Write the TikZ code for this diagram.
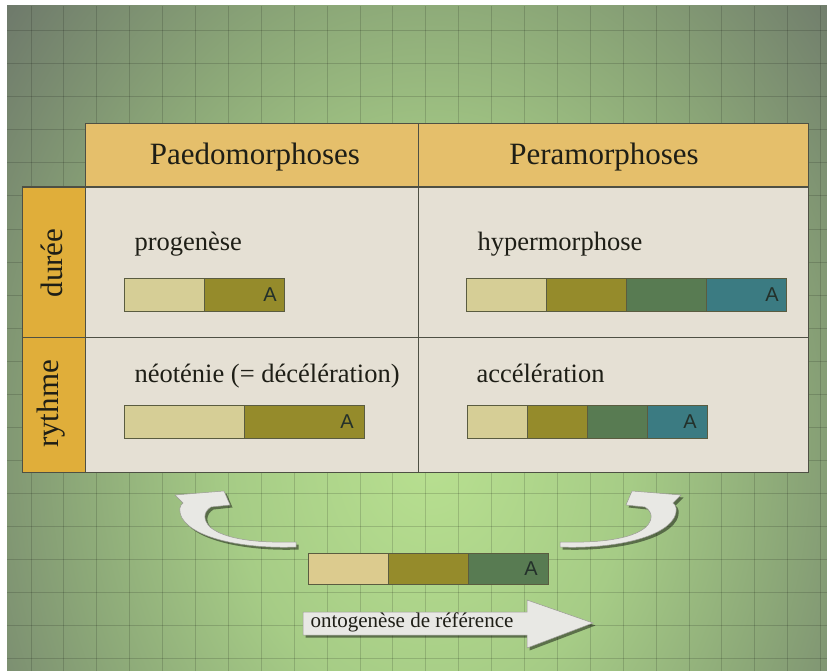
\documentclass[tikz,border=0pt]{standalone}
\usepackage{fontspec}
\setmainfont{Liberation Serif}
\setsansfont{Liberation Sans}
\usepackage{tikz}
\usetikzlibrary{positioning,shadows}

\definecolor{bgout}{HTML}{6C766A}
\definecolor{bgmid}{HTML}{8CA878}
\definecolor{bglight}{HTML}{A6CC86}
\definecolor{bgin}{HTML}{B8E090}
\definecolor{headcol}{HTML}{E5BF6B}
\definecolor{sidecol}{HTML}{E0AE3A}
\definecolor{cellcol}{HTML}{E5E0D4}
\definecolor{linecol}{HTML}{4E5044}
\definecolor{inkcol}{HTML}{1E1E16}
\definecolor{segline}{HTML}{5A5C40}
\definecolor{segA}{HTML}{D6CE96}
\definecolor{refA}{HTML}{DCCB8E}
\definecolor{segB}{HTML}{958B2B}
\definecolor{segC}{HTML}{587B52}
\definecolor{segD}{HTML}{3B7B82}
\definecolor{alcol}{HTML}{23302A}
\definecolor{arrowfill}{HTML}{E8E8E4}
\definecolor{arrowline}{HTML}{9A9A94}

\pgfdeclareradialshading{bgglow}{\pgfpoint{0bp}{0bp}}{color(0bp)=(bgin); color(9bp)=(bglight); color(16bp)=(bgmid); color(25bp)=(bgout); color(50bp)=(bgout)}

\begin{document}
\begin{tikzpicture}[x=1pt,y=-1pt,
	gridline/.style={black,opacity=0.15,line width=1pt},
	tableline/.style={linecol,line width=1pt},
	headtext/.style={anchor=base,text=inkcol,font=\fontsize{31}{36}\selectfont},
	sidetext/.style={rotate=90,text=inkcol,font=\fontsize{31}{36}\selectfont},
	celltext/.style={anchor=base west,text=inkcol,font=\fontsize{26.5}{30}\selectfont},
	segbox/.style={rectangle,draw=segline,line width=0.7pt,inner sep=0pt,outer sep=0pt,minimum height=33pt,anchor=north west},
	alabel/.style={inner sep=0pt,text=alcol,font=\sffamily\fontsize{20}{24}\selectfont},
	bentarrow/.style={fill=arrowfill,draw=arrowline,line width=0.5pt,drop shadow={shadow xshift=2.5pt,shadow yshift=-2.5pt,opacity=0.45,fill=black}}]
	
	% background
	\useasboundingbox (0,0) rectangle (827,671);
	\fill[white] (0,0) rectangle (827,671);
	\begin{scope}
		\clip (7,6) rectangle (827,671);
		\fill[bgout] (7,6) rectangle (827,671);
		\shade[shading=bgglow] (430,450) ellipse [x radius=560pt,y radius=720pt];
		\foreach \k in {0,...,24}
			\draw[gridline] ({31+32.9*\k},6) -- ({31+32.9*\k},671);
		\foreach \k in {0,...,19}
			\draw[gridline] (7,{31+33*\k}) -- (827,{31+33*\k});
	\end{scope}
	
	% table
	\fill[headcol] (85,124) rectangle (808,187);
	\fill[sidecol] (22,187) rectangle (85,472);
	\fill[cellcol] (85,187) rectangle (808,472);
	\draw[tableline] (85,124) rectangle (808,472);
	\draw[tableline] (22,187) rectangle (85,472);
	\draw[tableline] (22,337) -- (808,337);
	\draw[tableline] (418,124) -- (418,472);
	\draw[linecol,line width=1.5pt] (22,187) -- (808,187);
	
	\node[headtext] (paedo) at (255,165) {Paedomorphoses};
	\node[headtext] (pera) at (604,165) {Peramorphoses};
	\node[sidetext] (duree) at (52,263) {durée};
	\node[sidetext] (rythme) at (51,404) {rythme};
	
	\node[celltext] (progen) at (131,251) {progenèse};
	\node[celltext] (hyper) at (474,250) {hypermorphose};
	\node[celltext] (neoten) at (131,382) {néoténie (= décélération)};
	\node[celltext] (accel) at (473,382) {accélération};
	
	% bars
	\node[segbox,fill=segA,minimum width=80pt] (pg1) at (124,278) {};
	\node[segbox,fill=segB,minimum width=80pt,right=0pt of pg1] (pg2) {};
	\node[alabel,left=7pt of pg2.east] (pgA) {A};
	
	\node[segbox,fill=segA,minimum width=80pt] (hy1) at (466,278) {};
	\node[segbox,fill=segB,minimum width=80pt,right=0pt of hy1] (hy2) {};
	\node[segbox,fill=segC,minimum width=80pt,right=0pt of hy2] (hy3) {};
	\node[segbox,fill=segD,minimum width=80pt,right=0pt of hy3] (hy4) {};
	\node[alabel,left=7pt of hy4.east] (hyA) {A};
	
	\node[segbox,fill=segA,minimum width=120pt] (ne1) at (124,405) {};
	\node[segbox,fill=segB,minimum width=120pt,right=0pt of ne1] (ne2) {};
	\node[alabel,left=10pt of ne2.east] (neA) {A};
	
	\node[segbox,fill=segA,minimum width=60pt] (ac1) at (467,405) {};
	\node[segbox,fill=segB,minimum width=60pt,right=0pt of ac1] (ac2) {};
	\node[segbox,fill=segC,minimum width=60pt,right=0pt of ac2] (ac3) {};
	\node[segbox,fill=segD,minimum width=60pt,right=0pt of ac3] (ac4) {};
	\node[alabel,left=10pt of ac4.east] (acA) {A};
	
	\node[segbox,fill=refA,minimum width=80pt,minimum height=31pt] (rf1) at (308,553) {};
	\node[segbox,fill=segB,minimum width=80pt,minimum height=31pt,right=0pt of rf1] (rf2) {};
	\node[segbox,fill=segC,minimum width=80pt,minimum height=31pt,right=0pt of rf2] (rf3) {};
	\node[alabel,left=10pt of rf3.east] (rfA) {A};
	
	% bent arrows
	\draw[bentarrow] (296,547) .. controls (250,549) and (195,540) .. (182,518)
		.. controls (178,510) and (180,505) .. (183,503) -- (175,495) -- (224,491) -- (230,505) -- (211,507)
		.. controls (203,512) and (203,520) .. (210,527) .. controls (225,540) and (260,543) .. (296,542) -- cycle;
	\draw[bentarrow] (560,547) .. controls (606,549) and (661,540) .. (674,518)
		.. controls (678,510) and (676,505) .. (673,503) -- (681,495) -- (632,491) -- (626,505) -- (645,507)
		.. controls (653,512) and (653,520) .. (646,527) .. controls (631,540) and (596,543) .. (560,542) -- cycle;
	
	% time arrow
	\draw[bentarrow] (303,612) -- (527,612) -- (527,600) -- (593,623) -- (527,648) -- (527,635) -- (303,635) -- cycle;
	\node[anchor=base west,text=inkcol,font=\fontsize{21}{24}\selectfont] (onto) at (307,627) {ontogenèse de référence};
\end{tikzpicture}
\end{document}
